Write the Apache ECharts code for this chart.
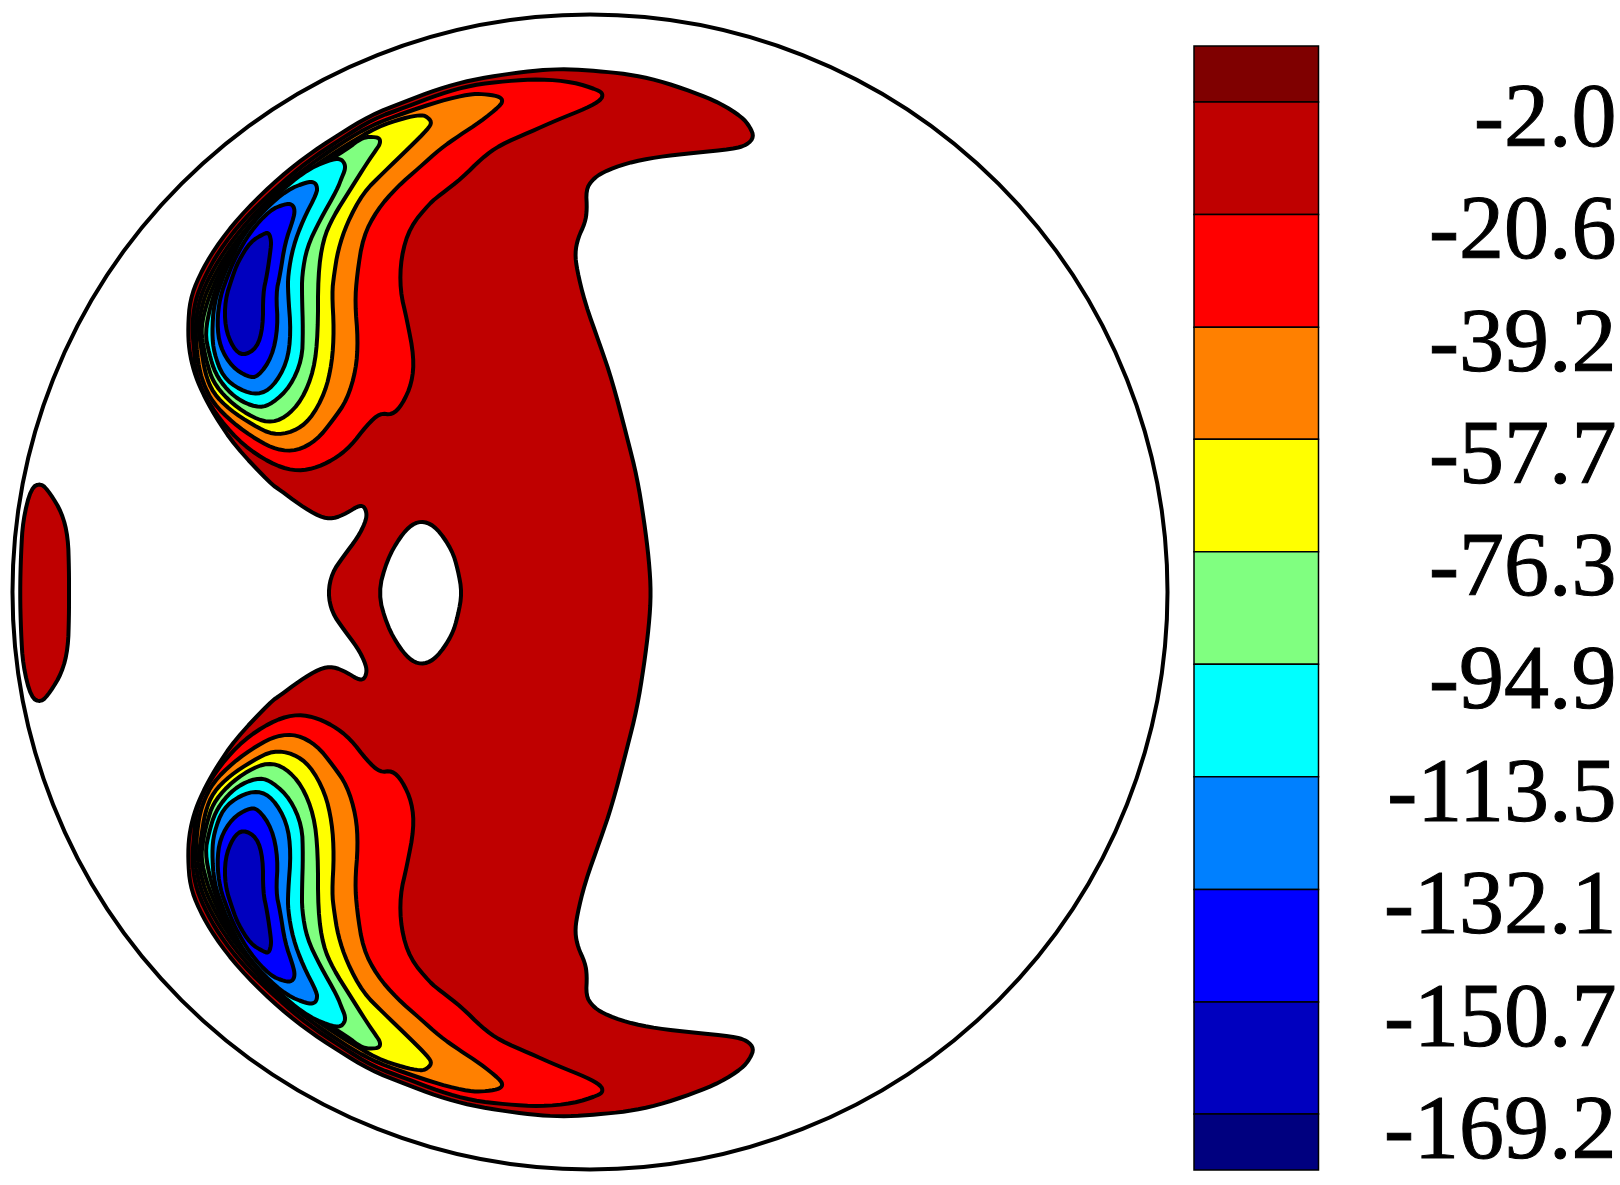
<!DOCTYPE html>
<html><head><meta charset="utf-8">
<style>html,body{margin:0;padding:0;background:#fff}#c{width:1620px;height:1185px}</style>
<script src="https://cdn.jsdelivr.net/npm/echarts@6/dist/echarts.min.js"></script>
</head><body><div id="c"></div>
<script>
// Colour-bar levels and their labels
const levels = [-2.0,-20.6,-39.2,-57.7,-76.3,-94.9,-113.5,-132.1,-150.7,-169.2];
const barTop = 7.25, barBottom = -178.45;
const bandColors = ['#7f0000','#bf0000','#ff0000','#ff8000','#ffff00','#80ff80','#00ffff','#0080ff','#0000ff','#0000bf','#00007f'];
// Domain boundary: centre x, centre y, radius
const domain = [590, 592, 577.5];
const midline = 592.75;
// Contours, upper half (the field is mirror-symmetric about the midline)
const outerHalf = [[651,593],[649,560],[644,520],[637,477],[627,437],[612,380],[600,345],[585,303],[577,270],[575,253],[578,238],[585,223],[587,210],[586,190],[592,180],[603,172],[627,163],[657,157],[693,153],[733,149],[747,145],[754,137],[750,127],[742,117],[720,103],[693,92],[657,80],[627,74],[597,71],[567,69],[540,70],[507,74],[471,80],[438,89],[404,102],[371,115],[338,135],[305,157],[272,184],[239,217],[215,248],[199,276],[190,300],[188,327],[189,350],[194,372],[202,392],[215,416],[235,446],[271,484],[280,490],[300,505],[320,517],[333,519],[347,513],[358,506],[364,506],[367,514],[365,523],[358,537],[343,557],[332,573],[328,593]];
const holeHalf = [[462,593],[458,570],[452,550],[437,528],[424,521],[412,524],[400,537],[387,560],[378,593]];
const islandHalf = [[69,593],[69,570],[68,537],[62,513],[50,493],[41,483],[31,488],[23,520],[21,553],[20,593]];
const c20 = [[472,85],[507,81],[540,79],[573,82],[598,90],[603,94],[601,100],[587,108],[557,120],[530,132],[500,145],[482,158],[462,178],[440,195],[430,203],[410,227],[401,257],[400,290],[407,320],[414,357],[412,383],[402,405],[392,415],[380,413],[367,425],[350,447],[333,460],[313,469],[293,471],[270,463],[243,445],[220,420],[203,393],[196,373],[194,349],[192,327],[195,301],[204,278],[219,251],[243,220],[276,188],[308,161],[341,139],[373,119],[406,107],[440,94]];
const c39 = [[440,101],[470,94],[483,94],[498,96],[503,100],[500,106],[480,122],[460,135],[440,149],[420,167],[397,187],[377,210],[363,237],[357,275],[355,303],[358,340],[356,370],[347,400],[333,420],[317,440],[297,451],[277,450],[257,440],[233,423],[213,403],[203,383],[198,363],[195,327],[199,301],[208,279],[223,253],[246,223],[278,190],[311,164],[343,142],[372,125],[404,113]];
const c57 = [[404,118],[420,115],[426,116],[432,122],[428,129],[410,147],[383,173],[363,193],[347,223],[338,250],[334,275],[332,293],[334,330],[332,363],[325,393],[310,420],[293,432],[273,435],[253,425],[230,410],[213,393],[205,373],[201,347],[198,327],[203,301],[212,280],[226,255],[249,225],[281,193],[313,167],[345,146],[377,127]];
const c76 = [[363,137],[376,137],[380,139],[380,144],[376,150],[367,163],[350,190],[333,217],[323,240],[318,275],[318,333],[314,370],[302,400],[285,418],[268,423],[248,415],[228,400],[213,382],[207,363],[203,345],[201,327],[207,302],[216,280],[229,255],[251,227],[283,195],[315,169],[347,149]];
const c94 = [[333,159],[341,159],[345,164],[345,170],[342,177],[337,190],[320,220],[307,247],[302,275],[302,297],[303,330],[302,360],[290,387],[273,403],[260,408],[242,402],[227,390],[215,373],[209,353],[205,333],[211,303],[220,278],[232,254],[241,241],[258,214],[284,188],[310,168]];
const c113 = [[307,182],[314,182],[317,186],[317,193],[303,220],[293,247],[288,275],[288,293],[291,333],[287,363],[273,387],[258,395],[240,390],[223,377],[214,353],[212,333],[214,303],[223,277],[229,263],[243,235],[264,210],[287,190]];
const c132 = [[285,204],[292,204],[295,210],[293,220],[285,243],[280,275],[276,293],[278,327],[272,357],[258,377],[248,377],[232,367],[220,347],[217,323],[220,297],[228,275],[235,258],[250,232],[270,210]];
const c150 = [[265,233],[269,233],[271,240],[271,247],[267,275],[263,293],[263,327],[257,348],[243,356],[233,348],[225,327],[225,300],[233,275],[238,262],[250,242]];

const line = '#000', lw = 4;
const mirrorHalf = h => h.concat(h.slice(1,-1).reverse().map(p => [p[0], 2*midline - p[1]]));
const shapes = [
  [mirrorHalf(outerHalf), bandColors[1]],
  [mirrorHalf(holeHalf), '#ffffff'],
  [mirrorHalf(islandHalf), bandColors[1]],
];
[[c20,2],[c39,3],[c57,4],[c76,5],[c94,6],[c113,7],[c132,8],[c150,9]].forEach(([pts,b]) => {
  shapes.push([pts, bandColors[b]]);
  shapes.push([pts.map(p => [p[0], 2*midline - p[1]]), bandColors[b]]);
});
// Corner rounding of a traced outline, for drawing only
function round(pts, n){
  let a = pts;
  for(let k=0;k<n;k++){
    const o=[];
    a.forEach((p,i)=>{const q=a[(i+1)%a.length];
      o.push([.75*p[0]+.25*q[0],.75*p[1]+.25*q[1]],[.25*p[0]+.75*q[0],.25*p[1]+.75*q[1]]);});
    a=o;
  }
  return a;
}

const bandEdges = [barTop].concat(levels, [barBottom]);
const bandData = bandColors.map((col,i) => [0, 1, bandEdges[i], bandEdges[i+1]]);

const chart = echarts.init(document.getElementById('c'), null, {renderer:'canvas'});
chart.setOption({
  animation:false,
  backgroundColor:'#fff',
  grid:[
    {left:0,top:0,width:1620,height:1185},
    {left:1194,top:46,width:125,height:1124}
  ],
  xAxis:[
    {gridIndex:0,type:'value',min:0,max:1620,show:false},
    {gridIndex:1,type:'value',min:0,max:1,show:false}
  ],
  yAxis:[
    {gridIndex:0,type:'value',min:0,max:1185,inverse:true,show:false},
    {gridIndex:1,type:'value',min:barBottom,max:barTop,position:'right',
     axisLine:{show:false},axisTick:{show:false},splitLine:{show:false},
     axisLabel:{show:true,customValues:levels,margin:298,align:'right',verticalAlign:'top',
       lineHeight:40,
       fontFamily:'Liberation Serif',fontSize:90,color:'#000',
       textBorderColor:'#000',textBorderWidth:1,
       formatter:v=>Number(v).toFixed(1)}}
  ],
  series:[
    {type:'custom',xAxisIndex:0,yAxisIndex:0,coordinateSystem:'cartesian2d',silent:true,clip:false,
     data:shapes.map((s,i)=>[i]),
     encode:{x:[],y:[]},
     renderItem(params,api){
       const s = shapes[params.dataIndex];
       return {type:'polygon',
         shape:{points:round(s[0],2).map(p=>api.coord(p))},
         style:{fill:s[1],stroke:line,lineWidth:lw,lineJoin:'round'}};
     }},
    {type:'custom',xAxisIndex:0,yAxisIndex:0,silent:true,clip:false,z:3,
     data:[domain],encode:{x:0,y:1},
     renderItem(params,api){
       const c = api.coord([api.value(0),api.value(1)]);
       const r = api.size([domain[2],0])[0];
       return {type:'circle',shape:{cx:c[0],cy:c[1],r},style:{fill:'none',stroke:line,lineWidth:lw}};
     }},
    {type:'custom',xAxisIndex:1,yAxisIndex:1,silent:true,
     data:bandData,encode:{x:[0,1],y:[2,3]},
     renderItem(params,api){
       const a = api.coord([api.value(0),api.value(2)]);
       const b = api.coord([api.value(1),api.value(3)]);
       return {type:'rect',shape:{x:a[0],y:a[1],width:b[0]-a[0],height:b[1]-a[1]},
         style:{fill:bandColors[params.dataIndex],stroke:line,lineWidth:1.5}};
     }}
  ]
});
</script></body></html>
